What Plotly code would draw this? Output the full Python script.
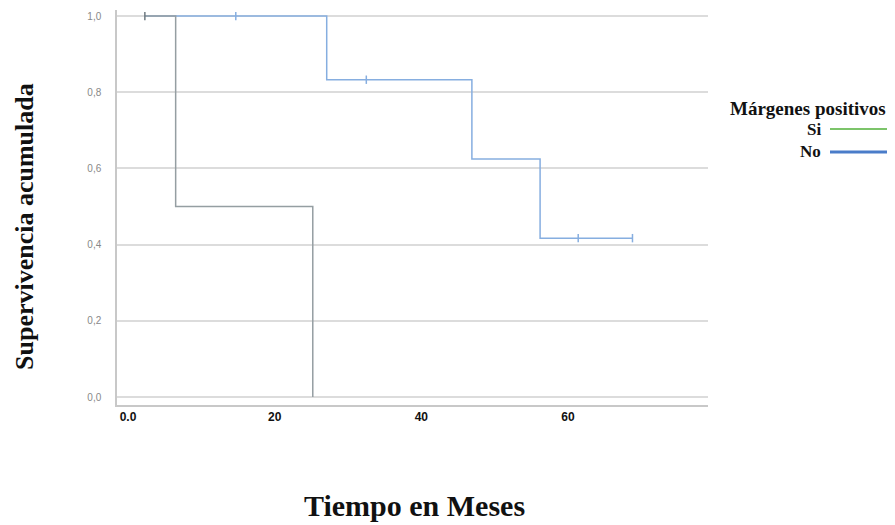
import plotly.graph_objects as go

# Kaplan-Meier step data
si_time = [2.3, 6.5, 6.5, 25.2, 25.2]
si_surv = [1.0, 1.0, 0.5, 0.5, 0.0]
si_cens_time = [2.3]
si_cens_surv = [1.0]

no_time = [2.3, 27.1, 27.1, 46.9, 46.9, 56.2, 56.2, 68.8]
no_surv = [1.0, 1.0, 0.833, 0.833, 0.625, 0.625, 0.417, 0.417]
no_cens_time = [14.7, 32.5, 61.4, 68.8]
no_cens_surv = [1.0, 0.833, 0.417, 0.417]

y_ticks = [0.0, 0.2, 0.4, 0.6, 0.8, 1.0]
y_labels = ["0,0", "0,2", "0,4", "0,6", "0,8", "1,0"]
x_ticks = [0, 20, 40, 60]
x_labels = ["<b>0.0</b>", "<b>20</b>", "<b>40</b>", "<b>60</b>"]

si_plot_color = "#959ea2"
si_legend_color = "#7cc46a"
no_color = "#86aee0"
no_legend_color = "#4a7cc9"

fig = go.Figure()
fig.add_trace(go.Scatter(x=no_time, y=no_surv, mode="lines",
                         line=dict(color=no_color, width=1.5), showlegend=False))
fig.add_trace(go.Scatter(x=no_cens_time, y=no_cens_surv, mode="markers",
                         marker=dict(symbol="line-ns", size=6,
                                     line=dict(color=no_color, width=1.5)),
                         showlegend=False))
fig.add_trace(go.Scatter(x=si_time, y=si_surv, mode="lines",
                         line=dict(color=si_plot_color, width=1.5), showlegend=False))
fig.add_trace(go.Scatter(x=si_cens_time, y=si_cens_surv, mode="markers",
                         marker=dict(symbol="line-ns", size=6,
                                     line=dict(color="#6f7a80", width=1.5)),
                         showlegend=False))

serif = "Liberation Serif"

# page body has an 8px margin: work in screenshot coordinates and shift
O = 8
W, H = 895 - O, 525 - O
PL, PR, PT, PB = 117, 708, 10, 405          # plot area in screenshot pixels
L, T = PL - O, PT - O
R, B = W - (PR - O), H - (PB - O)
PW, PH = PR - PL, PB - PT

def px(x):
    return (x - PL) / PW

def py(y):
    return (PB - y) / PH

fig.update_layout(
    width=W, height=H,
    margin=dict(l=L, r=R, t=T, b=B),
    plot_bgcolor="white", paper_bgcolor="white",
    showlegend=False,
    xaxis=dict(range=[-1.5, 79.1], tickvals=x_ticks, ticktext=x_labels,
               showgrid=False, zeroline=False, showline=True, automargin=False,
               linecolor="#c8c8c8", linewidth=1.5, ticks="",
               tickfont=dict(family="Liberation Sans", size=12, color="#111")),
    yaxis=dict(range=[-0.021, 1.016], tickvals=y_ticks, ticktext=y_labels,
               showgrid=True, gridcolor="#dcdcdc", gridwidth=1.5, automargin=False,
               zeroline=False, showline=True, linecolor="#c8c8c8", linewidth=1.5,
               ticks="", ticklabelstandoff=12,
               tickfont=dict(family="Liberation Sans", size=10, color="#888")),
)

# axis titles
fig.add_annotation(xref="paper", yref="paper", x=px(414), y=py(505),
                   text="<b>Tiempo en Meses</b>", showarrow=False,
                   font=dict(family=serif, size=30, color="#111"),
                   xanchor="center", yanchor="middle")
fig.add_annotation(xref="paper", yref="paper", x=px(24), y=py(227),
                   text="<b>Supervivencia acumulada</b>", showarrow=False, textangle=-90,
                   font=dict(family=serif, size=26, color="#111"),
                   xanchor="center", yanchor="middle")

# legend built manually to mimic the original layout
fig.add_annotation(xref="paper", yref="paper", x=px(808), y=py(108),
                   text="<b>Márgenes positivos</b>", showarrow=False,
                   font=dict(family=serif, size=19, color="#111"), xanchor="center", yanchor="middle")
fig.add_annotation(xref="paper", yref="paper", x=px(823), y=py(129),
                   text="<b>Si</b>", showarrow=False,
                   font=dict(family=serif, size=17, color="#111"), xanchor="right", yanchor="middle")
fig.add_annotation(xref="paper", yref="paper", x=px(823), y=py(151),
                   text="<b>No</b>", showarrow=False,
                   font=dict(family=serif, size=17, color="#111"), xanchor="right", yanchor="middle")
fig.add_shape(type="line", xref="paper", yref="paper",
              x0=px(830), x1=px(900), y0=py(129), y1=py(129),
              line=dict(color=si_legend_color, width=2))
fig.add_shape(type="line", xref="paper", yref="paper",
              x0=px(830), x1=px(900), y0=py(152), y1=py(152),
              line=dict(color=no_legend_color, width=3))

fig.write_html("out.html")
